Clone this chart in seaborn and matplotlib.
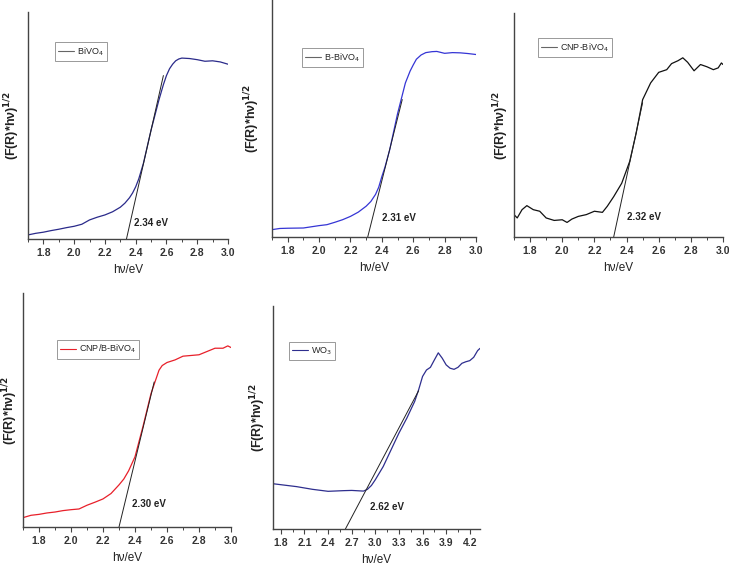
import numpy as np
import pandas as pd
import matplotlib.pyplot as plt
import seaborn as sns

sns.set_style("ticks")
plt.rcParams['font.family'] = ['Liberation Sans', 'DejaVu Sans']

# BiVO4
bivo4_x = [1.70, 1.75, 1.80, 1.85, 1.90, 1.95, 2.00, 2.05, 2.10, 2.15, 2.20, 2.25, 2.30, 2.33, 2.36, 2.38, 2.40, 2.42, 2.45, 2.50, 2.55, 2.58, 2.60, 2.62, 2.64, 2.66, 2.68, 2.70, 2.75, 2.80, 2.85, 2.90, 2.95, 3.00]
bivo4_y = [0.018, 0.025, 0.030, 0.037, 0.043, 0.050, 0.056, 0.065, 0.084, 0.096, 0.106, 0.120, 0.140, 0.158, 0.182, 0.203, 0.230, 0.265, 0.333, 0.480, 0.610, 0.680, 0.720, 0.750, 0.770, 0.785, 0.793, 0.797, 0.795, 0.790, 0.783, 0.785, 0.780, 0.770]

# B-BiVO4
bbivo4_x = [1.70, 1.75, 1.80, 1.90, 2.00, 2.05, 2.10, 2.15, 2.20, 2.25, 2.30, 2.33, 2.36, 2.38, 2.40, 2.42, 2.45, 2.50, 2.55, 2.58, 2.60, 2.62, 2.65, 2.68, 2.72, 2.75, 2.80, 2.85, 2.90, 2.95, 3.00]
bbivo4_y = [0.031, 0.036, 0.037, 0.038, 0.048, 0.052, 0.062, 0.073, 0.087, 0.105, 0.130, 0.150, 0.180, 0.210, 0.255, 0.295, 0.368, 0.520, 0.650, 0.700, 0.726, 0.750, 0.768, 0.778, 0.782, 0.783, 0.775, 0.778, 0.777, 0.774, 0.770]

# CNP-BiVO4
cnp_x = [1.70, 1.72, 1.75, 1.78, 1.82, 1.86, 1.90, 1.95, 2.00, 2.03, 2.06, 2.10, 2.15, 2.20, 2.25, 2.28, 2.32, 2.37, 2.42, 2.46, 2.50, 2.55, 2.60, 2.65, 2.68, 2.72, 2.75, 2.78, 2.82, 2.86, 2.90, 2.94, 2.97, 2.99, 3.00]
cnp_y = [0.100, 0.085, 0.122, 0.140, 0.122, 0.115, 0.085, 0.074, 0.077, 0.065, 0.080, 0.092, 0.100, 0.115, 0.110, 0.137, 0.180, 0.240, 0.338, 0.464, 0.613, 0.688, 0.735, 0.747, 0.774, 0.787, 0.800, 0.780, 0.742, 0.770, 0.760, 0.747, 0.755, 0.777, 0.770]

# CNP/B-BiVO4
cnpb_x = [1.70, 1.75, 1.80, 1.85, 1.90, 1.95, 2.00, 2.05, 2.10, 2.15, 2.20, 2.25, 2.30, 2.33, 2.36, 2.40, 2.45, 2.50, 2.55, 2.57, 2.60, 2.65, 2.70, 2.75, 2.80, 2.85, 2.90, 2.95, 2.98, 3.00]
cnpb_y = [0.040, 0.050, 0.054, 0.060, 0.064, 0.070, 0.074, 0.077, 0.093, 0.106, 0.120, 0.143, 0.180, 0.205, 0.240, 0.300, 0.430, 0.570, 0.670, 0.690, 0.703, 0.714, 0.730, 0.733, 0.736, 0.750, 0.764, 0.764, 0.774, 0.767]

# WO3
wo3_x = [1.70, 2.00, 2.20, 2.40, 2.60, 2.70, 2.85, 2.90, 2.95, 3.00, 3.10, 3.20, 3.30, 3.40, 3.50, 3.55, 3.60, 3.65, 3.70, 3.75, 3.80, 3.85, 3.90, 3.95, 4.00, 4.05, 4.10, 4.15, 4.20, 4.25, 4.30, 4.33]
wo3_y = [0.203, 0.190, 0.178, 0.169, 0.172, 0.173, 0.170, 0.178, 0.195, 0.221, 0.280, 0.355, 0.430, 0.497, 0.572, 0.624, 0.684, 0.713, 0.725, 0.758, 0.790, 0.766, 0.736, 0.721, 0.716, 0.725, 0.743, 0.750, 0.755, 0.770, 0.800, 0.810]

# tangent lines (Tauc fit), start at band gap on x axis
gaps = [2.34, 2.31, 2.32, 2.30, 2.62]
tangent_end_x = [2.58, 2.53, 2.50, 2.52, 3.55]
tangent_end_y = [0.72, 0.58, 0.60, 0.62, 0.62]
gap_labels = ["2.34 eV", "2.31 eV", "2.32 eV", "2.30 eV", "2.62 eV"]
label_x = [2.39, 2.40, 2.40, 2.38, 2.93]
label_y = [0.07, 0.08, 0.09, 0.10, 0.10]

names = ["BiVO$_4$", "B-BiVO$_4$", "CNP-BiVO$_4$", "CNP/B-BiVO$_4$", "WO$_3$"]
colors = ["#2a2a8a", "#3535d5", "#111111", "#e8202a", "#2e2e8e"]
xs = [bivo4_x, bbivo4_x, cnp_x, cnpb_x, wo3_x]
ys = [bivo4_y, bbivo4_y, cnp_y, cnpb_y, wo3_y]

# axes boxes in pixels: left, top, right, bottom
boxes = [(28, 12, 228, 239), (272, 0, 476, 237), (514, 13, 723, 237),
         (23, 293, 231, 527), (273, 306, 480, 529)]
legend_pos = [(0.135, 0.868), (0.147, 0.797), (0.115, 0.888), (0.163, 0.80), (0.077, 0.838)]
ylabel_off = [16, 20, 13, 13, 15]

W, H = 729, 568
fig = plt.figure(figsize=(W / 100, H / 100), dpi=100)

for i in range(5):
    l, t, r, b = boxes[i]
    ax = fig.add_axes([l / W, (H - b) / H, (r - l) / W, (b - t) / H])
    df = pd.DataFrame({"x": xs[i], "y": ys[i]})
    sns.lineplot(data=df, x="x", y="y", ax=ax, color=colors[i], lw=0.9, label=names[i])
    ax.plot([gaps[i], tangent_end_x[i]], [0, tangent_end_y[i]], color="#222222", lw=0.7)
    ax.text(label_x[i], label_y[i], gap_labels[i], fontsize=7, fontweight="bold",
            color="#222222", va="center")

    if i == 4:
        ax.set_xlim(1.7, 4.33)
        ax.set_xticks(np.arange(1.8, 4.3, 0.3))
        ax.set_xticks(np.arange(1.8, 4.35, 0.15), minor=True)
    else:
        ax.set_xlim(1.7, 3.0)
        ax.set_xticks(np.arange(1.8, 3.01, 0.2))
        ax.set_xticks(np.arange(1.7, 3.01, 0.1), minor=True)
    ax.set_xticklabels([f"{v:.1f}" for v in ax.get_xticks()])
    ax.set_ylim(0, 1)
    ax.set_yticks([])
    sns.despine(ax=ax)
    for s in ["left", "bottom"]:
        ax.spines[s].set_color("#444444")
        ax.spines[s].set_linewidth(1.0)
    ax.tick_params(axis="x", which="major", length=3.5, width=0.8, color="#444444",
                   labelsize=7.5, pad=3)
    ax.tick_params(axis="x", which="minor", length=2, width=0.7, color="#444444")
    for lab in ax.get_xticklabels():
        lab.set_fontweight("bold")
        lab.set_color("#333333")

    ax.set_xlabel("h\u03bd/eV", fontsize=8.5, color="#222222", labelpad=4)
    ax.set_ylabel("(F(R)*h\u03bd)$^{\\mathbf{1/2}}$", fontsize=9, fontweight="bold",
                  color="#222222", va="center")
    ax.yaxis.set_label_coords(-ylabel_off[i] / (r - l), 0.5)

    leg = ax.legend(loc="upper left", bbox_to_anchor=legend_pos[i], fontsize=6.5,
                    frameon=True, fancybox=False, edgecolor="#999999", framealpha=1,
                    handlelength=1.8, handletextpad=0.3, borderpad=0.35, borderaxespad=0)
    leg.get_frame().set_linewidth(0.7)
    for line in leg.get_lines():
        line.set_linewidth(0.8)
    if i in (0, 1, 2):
        leg.get_lines()[0].set_color("#666666")

fig.savefig("out.png", dpi=100)
